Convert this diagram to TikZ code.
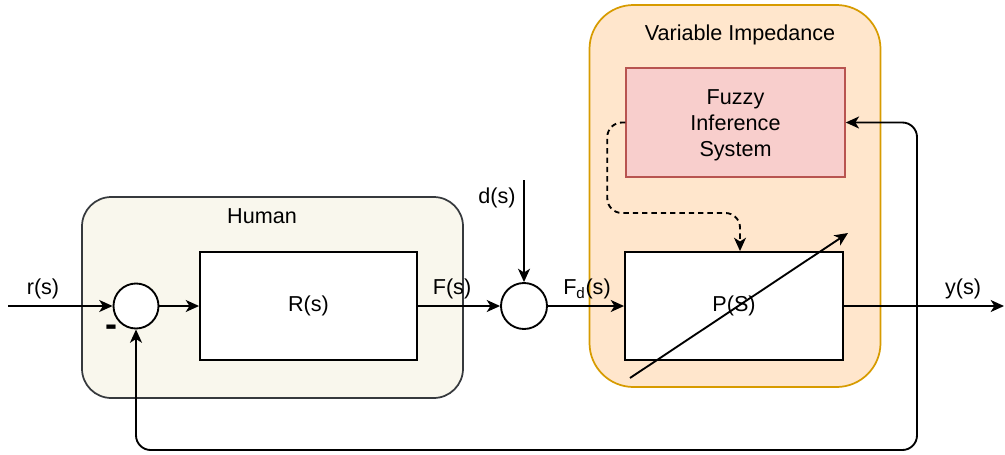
\documentclass[tikz,border=0pt]{standalone}
\usepackage{fontspec}
\setmainfont{Liberation Sans}
\usetikzlibrary{arrows.meta,calc}
\definecolor{humfill}{HTML}{F9F7ED}
\definecolor{humline}{HTML}{36393D}
\definecolor{vifill}{HTML}{FFE6CC}
\definecolor{viline}{HTML}{D79B00}
\definecolor{fzfill}{HTML}{F8CECC}
\definecolor{fzline}{HTML}{B85450}
\tikzset{
  lbl/.style={font=\fontsize{16.2}{19}\selectfont, inner sep=0pt},
  container/.style={draw, line width=1.3pt, inner sep=0pt},
  blk/.style={draw, line width=1.4pt, fill=white, inner sep=0pt, font=\fontsize{16.2}{19}\selectfont},
  sumc/.style={circle, draw, line width=1.4pt, fill=white, inner sep=0pt},
  arr/.style={line width=1.4pt, -{Stealth[length=10pt,width=9pt,inset=2.8pt]}},
}
\begin{document}
\begin{tikzpicture}[x=0.75pt,y=-0.75pt]
\useasboundingbox (0,0) rectangle (1005,454);
% containers
\node[container, fill=humfill, draw=humline, rounded corners=22pt,
      minimum width=381*0.75pt, minimum height=201*0.75pt] (human) at (272.5,297.5) {};
\node[lbl] (humanlbl) at (262,216) {Human};
\node[container, fill=vifill, draw=viline, rounded corners=33pt,
      minimum width=291*0.75pt, minimum height=382*0.75pt] (vimp) at (735,196) {};
\node[lbl] (vimplbl) at (740,34.5) {Variable Impedance};
% blocks
\node[blk, fill=fzfill, draw=fzline, line width=1.1pt,
      minimum width=219*0.75pt, minimum height=109*0.75pt] (fuzzy) at (735.5,122.5) {};
\node[lbl, align=center] (fuzzytxt) at (735.5,125.5) {Fuzzy\\[0.5pt]Inference\\[0.5pt]System};
\node[blk, minimum width=217*0.75pt, minimum height=108*0.75pt] (R) at (308.5,306) {R(s)};
\node[blk, minimum width=218*0.75pt, minimum height=108*0.75pt] (P) at (734,306) {P(S)};
\node[sumc, minimum size=45*0.75pt] (s1) at (136,306) {};
\node[sumc, minimum size=46*0.75pt] (s2) at (524,306) {};
% coordinates
\coordinate (rin) at (8,306);
\coordinate (din) at (524,180);
\coordinate (yout) at (1004,306);
\coordinate (fb) at (917,306);
\coordinate (fbb) at (917,450);
\coordinate (dl) at (608,213);
\coordinate (dtip) at (740,0);
\coordinate (da) at (630,378);
\coordinate (db) at (848,233);
% connectors
\draw[arr] (rin) -- (s1);
\draw[arr] (s1) -- (R);
\draw[arr] (R) -- (s2);
\draw[arr] (din) -- (s2);
\draw[arr] (s2) -- (P);
\draw[arr] (P) -- (yout);
\draw[arr, rounded corners=11pt] (fb) -- (fbb) -| (s1.south);
\draw[arr, rounded corners=11pt] (fb) |- (fuzzy.east);
\draw[arr, dashed, dash pattern=on 4pt off 3pt, rounded corners=11pt]
  (fuzzy.west) -- ++(-18,0) |- (dtip |- dl) -- (P.north -| dtip);
\draw[arr] (da) -- (db);
% labels
\node[lbl] (rl) at (43,289) {r(s)};
\node[lbl] (fl) at (452,289) {F(s)};
\node[lbl] (fdl) at (587,289) {F\textsubscript{d}(s)};
\node[lbl] (dlb) at (497,198) {d(s)};
\node[lbl] (yl) at (963,289) {y(s)};
\node[lbl, font=\fontsize{27}{30}\bfseries] (minus) at (111,331) {-};
\end{tikzpicture}
\end{document}
